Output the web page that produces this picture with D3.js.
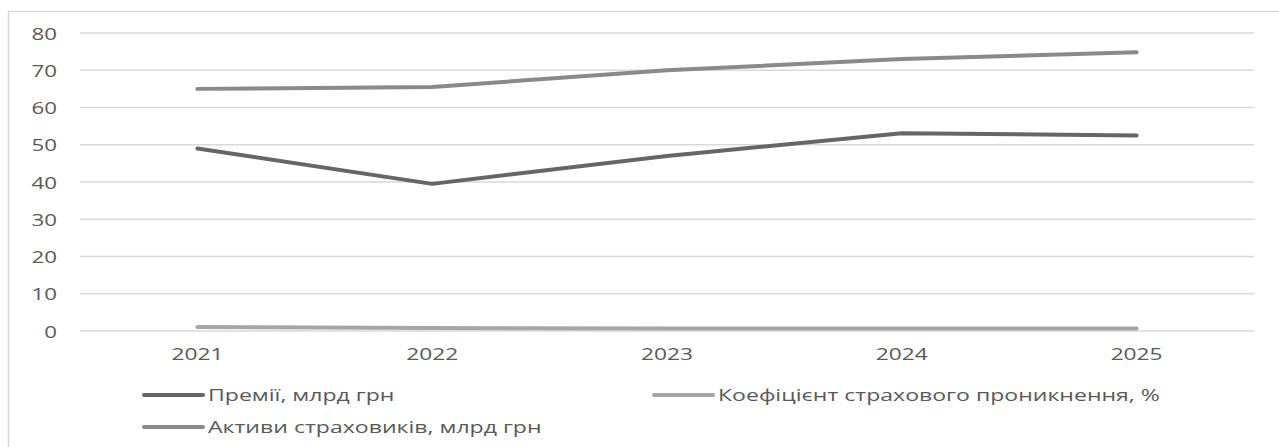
<!DOCTYPE html>
<html><head><meta charset="utf-8">
<script src="https://cdn.jsdelivr.net/npm/d3@7"></script>
<style>html,body{margin:0;padding:0;background:#fff;overflow:hidden}</style>
</head><body>
<svg id="c" width="1279" height="447"></svg>
<script>
const years = ["2021","2022","2023","2024","2025"];
const premiums = [49.0, 39.5, 47.0, 53.1, 52.5];
const penetration = [1.1, 0.8, 0.7, 0.7, 0.7];
const assets = [65.0, 65.5, 70.0, 73.0, 74.8];
const yTicks = [0,10,20,30,40,50,60,70,80];
const seriesNames = ["Премії, млрд грн","Коефіцієнт страхового проникнення, %","Активи страховиків, млрд грн"];
const seriesColors = ["#666666","#a6a6a6","#8a8a8a"];

const svg = d3.select("#c");
const font = "'Open Sans', sans-serif";
const textColor = "#595959";

svg.append("rect").attr("x",8.5).attr("y",11.5).attr("width",1300).attr("height",460)
  .attr("fill","none").attr("stroke","#d9d9d9").attr("stroke-width",1.5);

const x = d3.scaleBand().domain(years).range([80,1254]);
const y = d3.scaleLinear().domain([0,80]).range([331,33]);

function stretchFor(str, size, target){
  const t = svg.append("text").attr("font-family",font).attr("font-size",size).text(str);
  const w = t.node().getComputedTextLength();
  t.remove();
  return target / w;
}
const fs = 16.5;
const sxDigits = stretchFor("2021", fs, 52);
const sxText = stretchFor(seriesNames[1], fs, 442);

svg.append("g").selectAll("line").data(yTicks).join("line")
  .attr("x1",80).attr("x2",1254).attr("y1",d=>y(d)).attr("y2",d=>y(d))
  .attr("stroke","#d9d9d9").attr("stroke-width",1.5);

svg.append("g").selectAll("text").data(yTicks).join("text")
  .attr("transform",d=>`translate(57,${y(d)+6.5}) scale(${sxDigits},1)`)
  .attr("text-anchor","end").attr("font-family",font).attr("font-size",16.2)
  .attr("fill",textColor).text(d=>d);

svg.append("g").selectAll("text").data(years).join("text")
  .attr("transform",d=>`translate(${x(d)+x.bandwidth()/2},360) scale(${sxDigits},1)`)
  .attr("text-anchor","middle").attr("font-family",font).attr("font-size",fs)
  .attr("fill",textColor).text(d=>d);

const line = d3.line().x((d,i)=>x(years[i])+x.bandwidth()/2).y(d=>y(d));
const data = [premiums, penetration, assets];
svg.append("g").selectAll("path").data(data).join("path")
  .attr("d",d=>line(d)).attr("fill","none")
  .attr("stroke",(d,i)=>seriesColors[i]).attr("stroke-width",4)
  .attr("stroke-linecap","round").attr("stroke-linejoin","round");

const legendPos = [[144,395],[654,395],[144,427]];
const lg = svg.append("g").selectAll("g").data(seriesNames).join("g")
  .attr("transform",(d,i)=>`translate(${legendPos[i][0]},${legendPos[i][1]})`);
lg.append("line").attr("x1",0).attr("x2",59).attr("y1",0).attr("y2",0)
  .attr("stroke",(d,i)=>seriesColors[i]).attr("stroke-width",4).attr("stroke-linecap","round");
lg.append("text").attr("transform",`translate(64,5.5) scale(${sxText},1)`)
  .attr("font-family",font).attr("font-size",fs).attr("fill",textColor).text(d=>d);
</script>
</body></html>
